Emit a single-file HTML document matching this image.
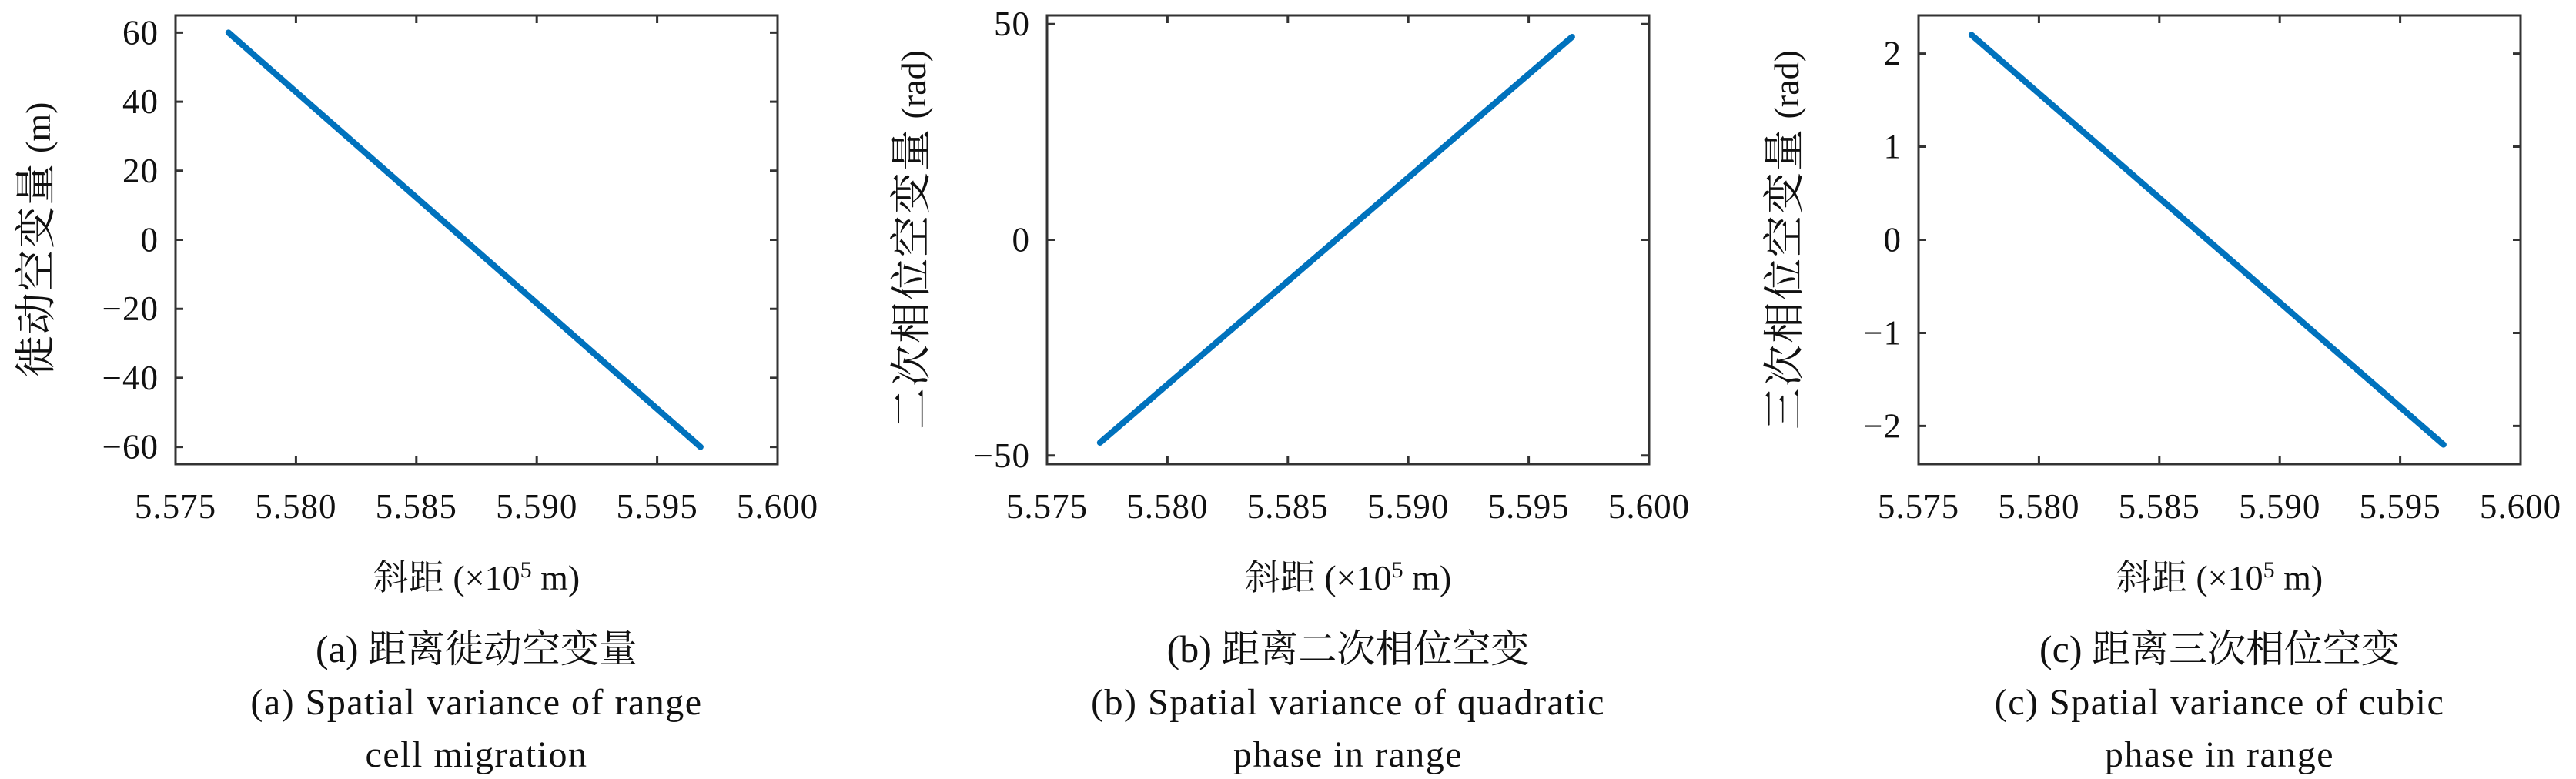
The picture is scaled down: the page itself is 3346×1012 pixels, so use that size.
<!DOCTYPE html>
<html><head><meta charset="utf-8">
<style>
html,body{margin:0;padding:0;background:#fff;}
svg{display:block;}
text{font-family:"Liberation Serif","Noto Serif CJK SC","Noto Sans CJK SC",serif;fill:#111;}
</style></head>
<body>
<svg id="fig" width="3346" height="1012" viewBox="0 0 3346 1012" xmlns="http://www.w3.org/2000/svg"></svg>
<script>
// x data (×10^5 m)
const xStart = [5.5772, 5.5772, 5.5772];
const xEnd = [5.5968, 5.5968, 5.5968];
// y data
const yStartVals = [60, -47, 2.2];
const yEndVals = [-60, 47, -2.2];
const xTicks = [5.575, 5.580, 5.585, 5.590, 5.595, 5.600];
const xTickLabels = ["5.575","5.580","5.585","5.590","5.595","5.600"];
const yTicks1 = [-60,-40,-20,0,20,40,60];
const yTicks2 = [-50,0,50];
const yTicks3 = [-2,-1,0,1,2];
const yLims = [[-65,65],[-52,52],[-2.41,2.41]];
const yTitlesZh = ["徙动空变量","二次相位空变量","三次相位空变量"];
const yTitlesUnit = [" (m)"," (rad)"," (rad)"];
const captionsZh = ["(a) 距离徙动空变量","(b) 距离二次相位空变","(c) 距离三次相位空变"];
const captionsEn1 = ["(a) Spatial variance of range","(b) Spatial variance of quadratic","(c) Spatial variance of cubic"];
const captionsEn2 = ["cell migration","phase in range","phase in range"];

const svg = document.getElementById('fig');
const NS = 'http://www.w3.org/2000/svg';
const panels = [{l:228,r:1010},{l:1360,r:2142},{l:2492,r:3274}];
const axTop = 20, axBot = 603;
const yTickSets = [yTicks1,yTicks2,yTicks3];

function mk(tag, attrs, txt){
  const e = document.createElementNS(NS, tag);
  for (const k in attrs) e.setAttribute(k, attrs[k]);
  if (txt !== undefined) e.textContent = txt;
  svg.appendChild(e);
  return e;
}
function fmt(v){ return v < 0 ? '\u2212' + Math.abs(v) : String(v); }

panels.forEach((p, i) => {
  const xs = v => p.l + (v - 5.575) / 0.025 * (p.r - p.l);
  const ys = v => axBot - (v - yLims[i][0]) / (yLims[i][1] - yLims[i][0]) * (axBot - axTop);
  const cx = (p.l + p.r) / 2;

  const ln = mk('line', {x1: xs(xStart[i]), y1: ys(yStartVals[i]), x2: xs(xEnd[i]), y2: ys(yEndVals[i]),
    stroke:'#0072BD', 'stroke-width':8, 'stroke-linecap':'round'});
  
  

  const box = mk('rect', {x:p.l, y:axTop, width:p.r-p.l, height:axBot-axTop, fill:'none', stroke:'#333', 'stroke-width':3});
  
  

  xTicks.forEach((t, k) => {
    const x = xs(t);
    const tk = mk('path', {d:`M${x},${axBot}v-10M${x},${axTop}v10`, stroke:'#333', 'stroke-width':3});
    
    
    const lb = mk('text', {x:x, y:673, 'font-size':45, 'letter-spacing':1, 'text-anchor':'middle'}, xTickLabels[k]);
    
    
  });
  yTickSets[i].forEach(t => {
    const y = ys(t);
    const tk = mk('path', {d:`M${p.l},${y}h10M${p.r},${y}h-10`, stroke:'#333', 'stroke-width':3});
    
    
    const lb = mk('text', {x:p.l-22, y:y+15, 'font-size':45, 'letter-spacing':1, 'text-anchor':'end'}, fmt(t));
    
    
  });

  const xt = mk('text', {x:cx, y:766, 'font-size':46, 'text-anchor':'middle'});
  
  
  xt.innerHTML = '斜距 (×10<tspan dy="-16" font-size="30">5</tspan><tspan dy="16"> m)</tspan>';

  const yx = [47, 1184, 2318][i];
  const yt = mk('text', {x:0, y:0, 'font-size':54, 'text-anchor':'middle',
    transform:`translate(${yx + 18},${(axTop+axBot)/2}) rotate(-90)`});
  
  
  yt.innerHTML = '<tspan letter-spacing="2">' + yTitlesZh[i] + '</tspan><tspan font-size="46">' + yTitlesUnit[i] + '</tspan>';

  const c1 = mk('text', {x:cx, y:860, 'font-size':50, 'text-anchor':'middle'}, captionsZh[i]);
  
  
  const c2 = mk('text', {x:cx, y:928, 'font-size':48, 'letter-spacing':1.5, 'text-anchor':'middle'}, captionsEn1[i]);
  
  
  const c3 = mk('text', {x:cx, y:996, 'font-size':48, 'letter-spacing':1.5, 'text-anchor':'middle'}, captionsEn2[i]);
  
  
});
</script>
</body></html>
